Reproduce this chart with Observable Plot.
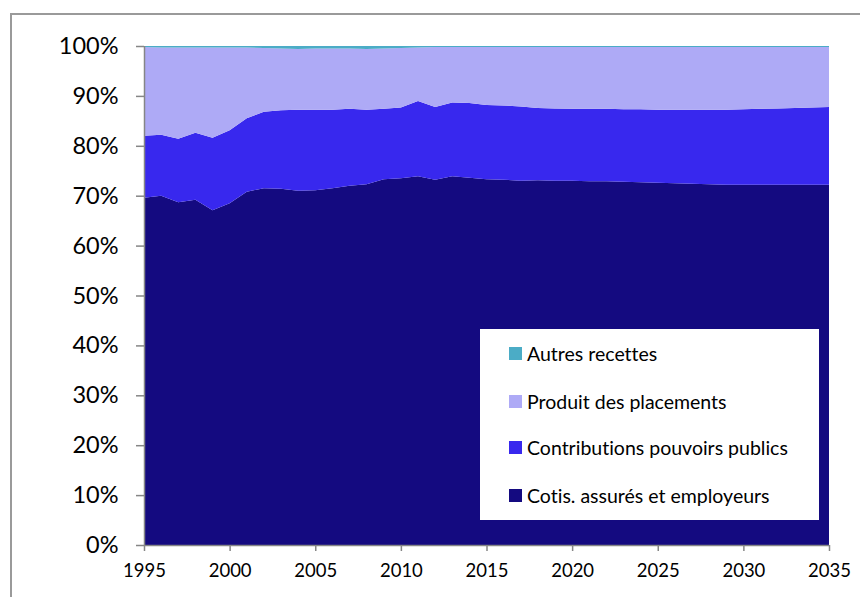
<!DOCTYPE html>
<html>
<head>
<meta charset="utf-8">
<script src="https://cdn.jsdelivr.net/npm/d3@7"></script>
<script src="https://cdn.jsdelivr.net/npm/@observablehq/plot@0.6"></script>
<style>
  html, body { margin: 0; padding: 0; background: #fff; }
  #wrap { position: relative; width: 860px; height: 597px; overflow: hidden; font-family: Lato, "Open Sans", sans-serif; font-variant-ligatures: none; }
  #border { position: absolute; left: 10px; top: 13px; width: 900px; height: 700px; border: 2px solid #9a9a9a; box-sizing: border-box; }
  #chart { position: absolute; left: 0; top: 0; }
  #legend { position: absolute; left: 480px; top: 329px; width: 339px; height: 191px; background: #fff; }
  .item { position: absolute; left: 29px; display: flex; align-items: center; font-size: 19.5px; color: #000; white-space: nowrap; font-variant-ligatures: none; }
  .sw { width: 13px; height: 13px; margin-right: 5px; }
  svg text { font-variant-ligatures: none; }
</style>
</head>
<body>
<div id="wrap">
  <div id="border"></div>
  <div id="chart"></div>
  <div id="legend"></div>
</div>
<script>
const years = d3.range(1995, 2036);
const seriesNames = ["Cotis. assurés et employeurs", "Contributions pouvoirs publics", "Produit des placements", "Autres recettes"];
const seriesColors = ["#140a80", "#3828ee", "#aeaaf6", "#4bacc6"];
const cotis = [69.6, 70.0, 68.7, 69.2, 67.1, 68.5, 70.8, 71.5, 71.4, 71.0, 71.1, 71.5, 72.0, 72.3, 73.3, 73.5, 73.9, 73.2, 73.9, 73.6, 73.3, 73.2, 73.0, 73.1, 73.0, 73.0, 72.9, 72.9, 72.8, 72.7, 72.6, 72.5, 72.4, 72.3, 72.2, 72.2, 72.2, 72.2, 72.2, 72.2, 72.2];
const contrib = [12.4, 12.2, 12.7, 13.4, 14.5, 14.6, 14.7, 15.3, 15.7, 16.2, 16.1, 15.7, 15.4, 14.9, 14.1, 14.2, 15.1, 14.6, 14.8, 15.0, 14.9, 14.9, 14.9, 14.5, 14.5, 14.4, 14.5, 14.5, 14.5, 14.6, 14.6, 14.7, 14.8, 14.9, 15.0, 15.1, 15.2, 15.3, 15.4, 15.5, 15.6];
const placements = [17.8, 17.5, 18.3, 17.1, 18.1, 16.6, 14.2, 12.8, 12.4, 12.2, 12.3, 12.3, 12.1, 12.2, 12.1, 11.9, 10.7, 12.0, 11.1, 11.2, 11.6, 11.7, 11.9, 12.2, 12.3, 12.4, 12.4, 12.4, 12.5, 12.5, 12.6, 12.6, 12.6, 12.6, 12.6, 12.5, 12.4, 12.3, 12.2, 12.1, 12.0];
const autres = [0.2, 0.3, 0.3, 0.3, 0.3, 0.3, 0.3, 0.4, 0.5, 0.6, 0.5, 0.5, 0.5, 0.6, 0.5, 0.4, 0.3, 0.2, 0.2, 0.2, 0.2, 0.2, 0.2, 0.2, 0.2, 0.2, 0.2, 0.2, 0.2, 0.2, 0.2, 0.2, 0.2, 0.2, 0.2, 0.2, 0.2, 0.2, 0.2, 0.2, 0.2];
const xTicks = [1995, 2000, 2005, 2010, 2015, 2020, 2025, 2030, 2035];
const yTicks = [0, 10, 20, 30, 40, 50, 60, 70, 80, 90, 100];

const seriesValues = [cotis, contrib, placements, autres];
const data = [];
seriesNames.forEach((name, i) => {
  years.forEach((yr, j) => data.push({ year: yr, series: name, value: seriesValues[i][j] }));
});

const axisColor = "#868686";
const chart = Plot.plot({
  width: 860,
  height: 597,
  marginLeft: 144,
  marginRight: 31,
  marginTop: 46,
  marginBottom: 52,
  style: { fontFamily: "Lato, 'Open Sans', sans-serif", background: "transparent", overflow: "visible" },
  x: { domain: [1995, 2035] },
  y: { domain: [0, 100] },
  color: { domain: seriesNames, range: seriesColors },
  marks: [
    Plot.areaY(data, Plot.stackY({ order: seriesNames }, { x: "year", y: "value", z: "series", fill: "series" })),
    Plot.ruleX([1995], { stroke: axisColor, strokeWidth: 1.5 }),
    Plot.ruleY([0], { stroke: axisColor, strokeWidth: 1.5 }),
    Plot.axisY({ ticks: yTicks, tickFormat: d => d + "%", tickSize: 8, tickPadding: 18, stroke: axisColor, strokeWidth: 1.5, fontSize: 23.5, label: null }),
    Plot.axisX({ ticks: xTicks, tickFormat: d => String(d), tickSize: 6, tickPadding: 12, stroke: axisColor, strokeWidth: 1.5, fontSize: 18.5, label: null })
  ]
});
chart.querySelectorAll("text").forEach(t => t.setAttribute("fill", "#000"));
document.getElementById("chart").appendChild(chart);

const legend = document.getElementById("legend");
const order = [3, 2, 1, 0];
const tops = [14, 62, 108, 156];
order.forEach((idx, k) => {
  const item = document.createElement("div");
  item.className = "item";
  item.style.top = tops[k] + "px";
  item.style.height = "20px";
  const sw = document.createElement("div");
  sw.className = "sw";
  sw.style.background = seriesColors[idx];
  const label = document.createElement("span");
  label.textContent = seriesNames[idx];
  item.appendChild(sw);
  item.appendChild(label);
  legend.appendChild(item);
});
</script>
</body>
</html>
